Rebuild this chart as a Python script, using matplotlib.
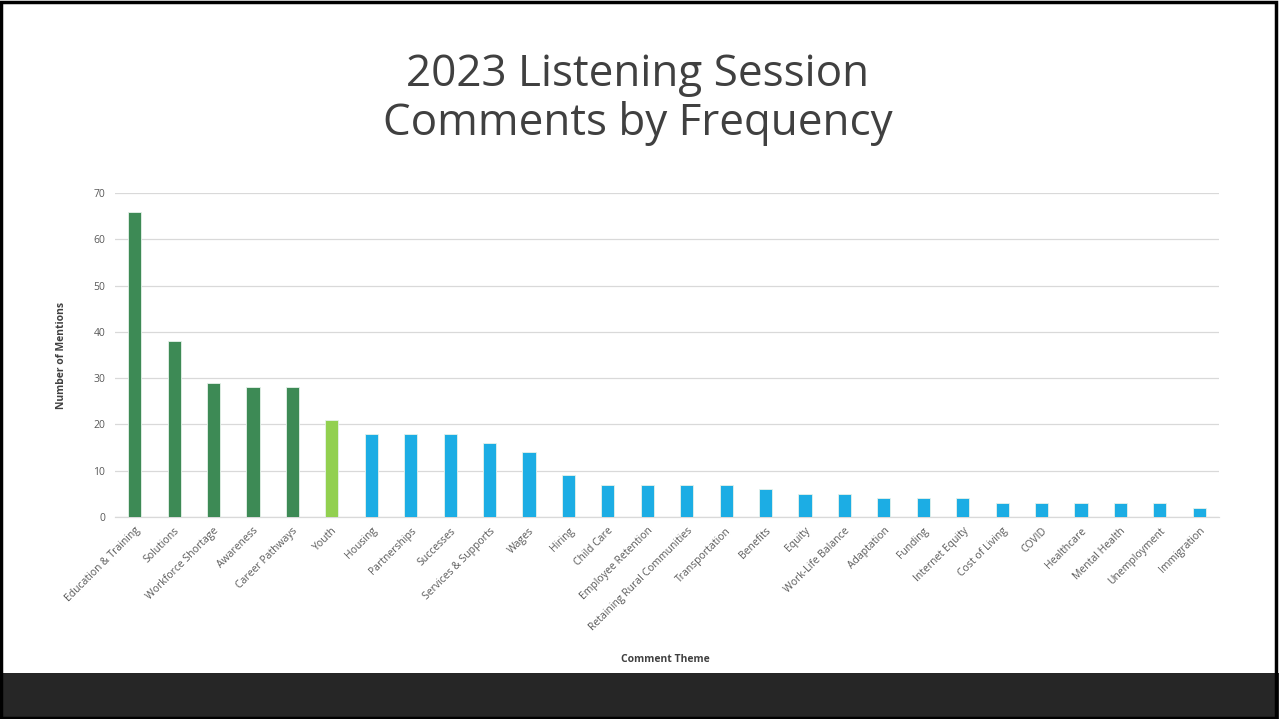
import matplotlib.pyplot as plt
from matplotlib.patches import Rectangle

plt.rcParams['font.family'] = ['Open Sans', 'DejaVu Sans']

themes = ['Education & Training', 'Solutions', 'Workforce Shortage', 'Awareness',
          'Career Pathways', 'Youth', 'Housing', 'Partnerships', 'Successes',
          'Services & Supports', 'Wages', 'Hiring', 'Child Care', 'Employee Retention',
          'Retaining Rural Communities', 'Transportation', 'Benefits', 'Equity',
          'Work-Life Balance', 'Adaptation', 'Funding', 'Internet Equity',
          'Cost of Living', 'COVID', 'Healthcare', 'Mental Health', 'Unemployment',
          'Immigration']
mentions = [66, 38, 29, 28, 28, 21, 18, 18, 18, 16, 14, 9, 7, 7, 7, 7, 6, 5, 5,
            4, 4, 4, 3, 3, 3, 3, 3, 2]
# colour group per bar: top themes, youth, the rest
groups = ['top'] * 5 + ['youth'] + ['other'] * 22
group_colors = {'top': '#3D8A55', 'youth': '#92D050', 'other': '#1CADE4'}

fig = plt.figure(figsize=(12.79, 7.19), dpi=100)
fig.patch.set_facecolor('white')

# dark band along the bottom and slide border
fig.add_artist(Rectangle((0, 0), 1, 46 / 719, transform=fig.transFigure,
                         facecolor='#262626', edgecolor='none', zorder=0))
fig.add_artist(Rectangle((0.001, 0.002), 0.997, 0.995, transform=fig.transFigure,
                         facecolor='none', edgecolor='black', linewidth=2.5, zorder=5))

ax = fig.add_axes([115 / 1279, 202 / 719, 1104 / 1279, 324 / 719])
x = range(len(themes))
colors = [group_colors[g] for g in groups]
ax.bar(x, mentions, width=0.33, color=colors, edgecolor='#E6F2EA', linewidth=0.6, zorder=3)

ax.set_xlim(-0.5, len(themes) - 0.5)
ax.set_ylim(0, 70)
ax.set_yticks(range(0, 71, 10))
ax.grid(axis='y', color='#D9D9D9', linewidth=0.9, zorder=0)
for s in ['top', 'right', 'left']:
    ax.spines[s].set_visible(False)
ax.spines['bottom'].set_color('#D9D9D9')
ax.spines['bottom'].set_linewidth(0.9)
ax.tick_params(axis='both', length=0, colors='#595959', labelsize=7.5)
ax.tick_params(axis='y', pad=7)
ax.set_xticks(list(x))
ax.set_xticklabels(themes, rotation=45, ha='right', rotation_mode='anchor')
ax.tick_params(axis='x', pad=6)

ax.set_ylabel('Number of Mentions', fontsize=7.5, fontweight='bold', color='#404040', labelpad=19)
fig.text(665 / 1279, 1 - 660 / 719, 'Comment Theme', fontsize=7.5, fontweight='bold',
         color='#404040', ha='center', va='center')

fig.text(638 / 1279, 1 - 99 / 719, '2023 Listening Session\nComments by Frequency',
         fontsize=31.7, color='#404040', ha='center', va='center', linespacing=1.12)

fig.savefig('out.png', dpi=100)
